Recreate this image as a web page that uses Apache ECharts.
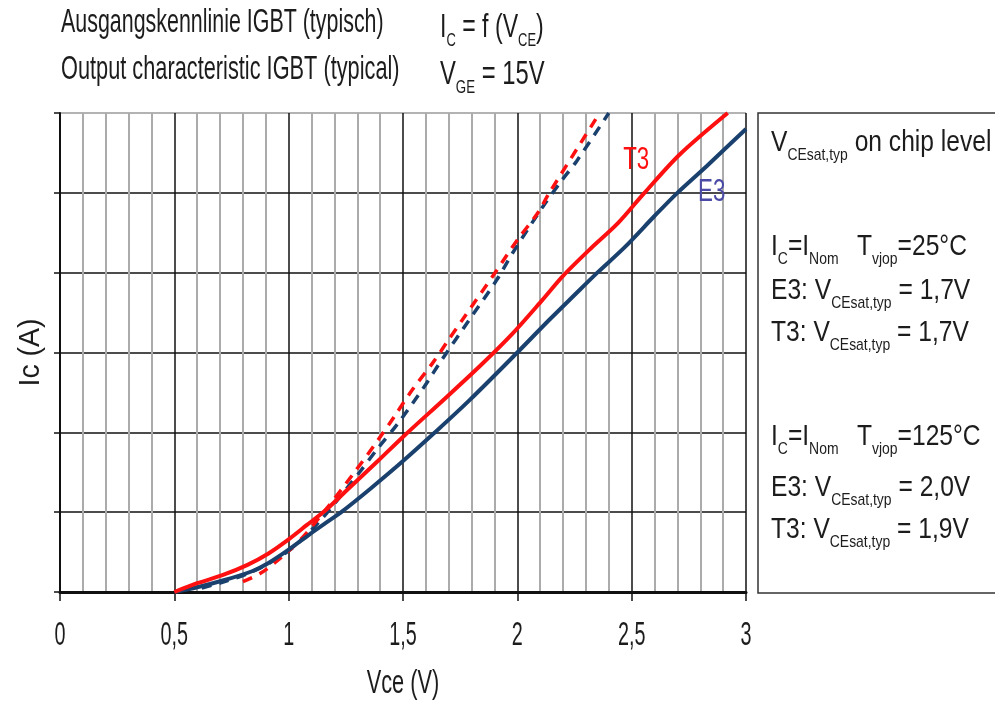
<!DOCTYPE html>
<html>
<head>
<meta charset="utf-8">
<script src="https://cdn.jsdelivr.net/npm/echarts@6/dist/echarts.min.js"></script>
<style>
html, body { margin: 0; padding: 0; background: #fff; }
#chart { width: 995px; height: 701px; }
</style>
</head>
<body>
<div id="chart"></div>
<script>
// curves: [Vce (V), Ic (grid divisions)]
var t3Solid = [[0.50,0.00],[0.60,0.11],[0.71,0.21],[0.82,0.34],[0.91,0.48],[1.00,0.66],[1.08,0.84],[1.16,1.02],
    [1.26,1.29],[1.39,1.64],[1.51,1.97],[1.69,2.44],[1.84,2.84],[1.98,3.24],[2.11,3.66],[2.20,3.96],
    [2.32,4.30],[2.44,4.62],[2.55,4.98],[2.71,5.48],[2.92,6.00]];
var e3Solid = [[0.50,0.00],[0.60,0.06],[0.72,0.15],[0.84,0.26],[0.91,0.36],[1.00,0.53],[1.09,0.72],[1.18,0.90],
    [1.23,1.00],[1.36,1.30],[1.50,1.64],[1.64,2.00],[1.79,2.40],[2.00,3.00],[2.14,3.41],[2.25,3.72],
    [2.35,4.00],[2.47,4.32],[2.60,4.71],[2.70,5.00],[2.83,5.34],[3.00,5.80]];
var t3Dash = [[0.80,0.13],[0.88,0.24],[0.97,0.44],[1.05,0.65],[1.17,1.06],[1.28,1.47],[1.39,1.90],[1.46,2.19],
    [1.54,2.53],[1.63,2.87],[1.69,3.12],[1.76,3.41],[1.91,4.03],[2.00,4.41],[2.09,4.75],[2.14,5.00],[2.36,6.00]];
var e3Dash = [[0.62,0.05],[0.72,0.13],[0.82,0.23],[0.92,0.37],[1.02,0.56],[1.14,0.90],[1.26,1.32],[1.31,1.50],
    [1.39,1.80],[1.48,2.12],[1.59,2.56],[1.67,2.91],[1.79,3.41],[1.91,3.91],[1.98,4.25],[2.11,4.82],[2.19,5.14],
    [2.26,5.40],[2.40,6.00]];

var xTicks = [0, 0.5, 1, 1.5, 2, 2.5, 3];
var xTickLabels = ['0', '0,5', '1', '1,5', '2', '2,5', '3'];
var curveLabels = [['T3', 2.52, 5.41], ['E3', 2.85, 5.00]];

// legend box lines
var boxLines = [
    '{m|V}{s|CEsat,typ}{m| on chip level}',
    '{m|I}{s|C}{m|=I}{s|Nom}',
    '{m|E3: V}{s|CEsat,typ}{m| = 1,7V}',
    '{m|T3: V}{s|CEsat,typ}{m| = 1,7V}',
    '{m|I}{s|C}{m|=I}{s|Nom}',
    '{m|E3: V}{s|CEsat,typ}{m| = 2,0V}',
    '{m|T3: V}{s|CEsat,typ}{m| = 1,9V}'
];
var boxTemps = [['{m|T}{s|vjop}{m|=25°C}', 1], ['{m|T}{s|vjop}{m|=125°C}', 4]];
var boxLineY = [143, 247, 291, 333, 437, 488, 530];

var FONT = '"Liberation Sans", Arial, sans-serif';
var INK = '#1c1c1c';
var RED = '#ff1010';
var NAVY = '#1a416e';

function richText(x, y, text, size, sub, sx, drop) {
    return {
        type: 'text', x: x, y: y, scaleX: sx, z: 100,
        style: {
            text: text, fill: INK, textVerticalAlign: 'middle',
            rich: {
                m: {fontFamily: FONT, fontSize: size, lineHeight: size + drop, fill: INK},
                s: {fontFamily: FONT, fontSize: sub, lineHeight: sub - 4, verticalAlign: 'bottom', fill: INK}
            }
        }
    };
}

function plainText(x, y, text, size, sx, align, color, rot) {
    return {
        type: 'text', x: x, y: y, scaleX: sx, rotation: rot || 0, z: 100,
        style: {
            text: text, fill: color || INK, fontFamily: FONT, fontSize: size,
            textAlign: align || 'left', textVerticalAlign: 'middle'
        }
    };
}

var chart = echarts.init(document.getElementById('chart'));

var graphics = [
    plainText(61, 23, 'Ausgangskennlinie IGBT (typisch)', 34, 0.63),
    plainText(61, 70, 'Output characteristic IGBT (typical)', 34, 0.64),
    richText(440, 28, '{m|I}{s|C}{m| = f (V}{s|CE}{m|)}', 34, 19, 0.68, 10),
    richText(440, 75, '{m|V}{s|GE}{m| = 15V}', 34, 19, 0.7, 10),
    {
        type: 'rect', z: 90,
        shape: {x: 758, y: 113, width: 260, height: 480},
        style: {fill: '#fff', stroke: '#333', lineWidth: 1.5}
    }
];
boxLines.forEach(function (t, i) {
    graphics.push(richText(771, boxLineY[i], t, 30, 17, 0.82, 12));
});
boxTemps.forEach(function (t) {
    graphics.push(richText(857, boxLineY[t[1]], t[0], 30, 17, 0.82, 12));
});

var seriesStyle = function (name, data, color, width, dashed, z) {
    return {
        name: name, type: 'line', data: data, smooth: 0.3,
        symbol: 'none', z: z, silent: true,
        lineStyle: {color: color, width: width, type: dashed ? [10, 8] : 'solid', cap: 'butt'}
    };
};

chart.setOption({
    animation: false,
    backgroundColor: '#fff',
    grid: {left: 60, top: 113, width: 686, height: 479, containLabel: false},
    xAxis: {
        type: 'value', min: 0, max: 3, interval: 0.5,
        axisLine: {show: true, onZero: false, lineStyle: {color: '#111', width: 3}},
        axisTick: {show: true, length: 9, lineStyle: {color: '#111', width: 1.5}},
        axisLabel: {show: false},
        splitLine: {show: true, lineStyle: {color: '#111', width: 1.5}},
        minorTick: {show: false, splitNumber: 5},
        minorSplitLine: {show: true, lineStyle: {color: '#ababab', width: 2}}
    },
    yAxis: {
        type: 'value', min: 0, max: 6, interval: 1,
        axisLine: {show: true, lineStyle: {color: '#111', width: 2}},
        axisTick: {show: true, length: 6, lineStyle: {color: '#111', width: 1.5}},
        axisLabel: {show: false},
        splitLine: {show: true, lineStyle: {color: ['#111', '#111', '#111', '#111', '#111', '#111', '#9a9a9a'], width: 1.5}}
    },
    series: [
        seriesStyle('E3 dash', e3Dash, NAVY, 3.5, true, 3),
        seriesStyle('T3 dash', t3Dash, RED, 3.5, true, 4),
        seriesStyle('E3', e3Solid, NAVY, 4, false, 5),
        seriesStyle('T3', t3Solid, RED, 4, false, 6)
    ]
});

// tick labels, axis names and curve names placed through the axis scales
xTicks.forEach(function (v, i) {
    var p = chart.convertToPixel({gridIndex: 0}, [v, 0]);
    graphics.push(plainText(p[0], p[1] + 44, xTickLabels[i], 33, 0.6, 'center'));
});
var mid = chart.convertToPixel({gridIndex: 0}, [1.5, 3]);
graphics.push(plainText(mid[0], 684, 'Vce (V)', 33, 0.66, 'center'));
graphics.push(plainText(31, mid[1], 'Ic (A)', 30, 0.95, 'center', INK, Math.PI / 2));
curveLabels.forEach(function (c) {
    var p = chart.convertToPixel({gridIndex: 0}, [c[1], c[2]]);
    graphics.push(plainText(p[0], p[1], c[0], 31, 0.72, 'center', c[0] === 'T3' ? RED : '#4a4aa6'));
});

chart.setOption({graphic: graphics});
</script>
</body>
</html>
